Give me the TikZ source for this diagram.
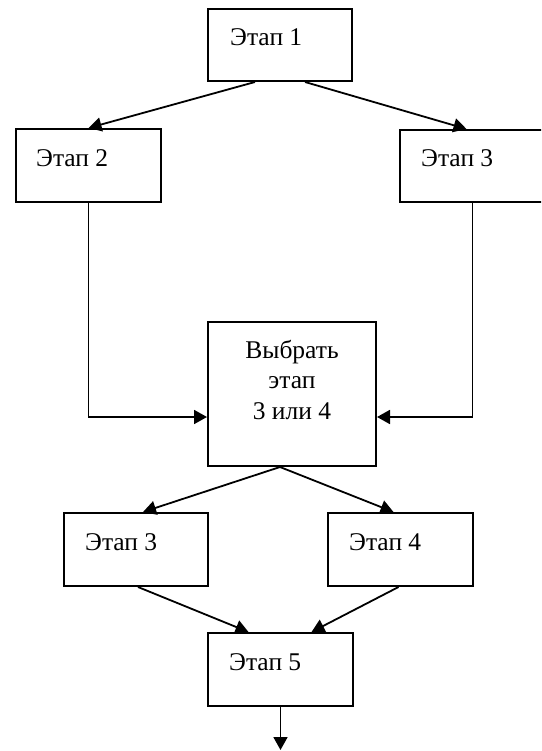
\documentclass[tikz,border=0pt]{standalone}
\usepackage{fontspec}
\setmainfont{Liberation Serif}
\newfontfamily\tnr{Liberation Serif}
\usetikzlibrary{arrows.meta}
\begin{document}
\begin{tikzpicture}[x=1pt,y=-1pt,
  box/.style={draw, line width=2pt, rectangle, inner sep=0pt},
  lbl/.style={inner sep=0pt, anchor=base west, font=\tnr\fontsize{25.5}{30.5}\selectfont},
  arr/.style={line width=1.8pt, -{Triangle[length=13pt,width=14pt]}}]
\useasboundingbox (0,0) rectangle (541,751);
\clip (0,0) rectangle (541,751);
% boxes
\node[box, minimum width=144pt, minimum height=72pt] (b1) at (280,45) {};
\node[box, minimum width=145pt, minimum height=73pt] (b2) at (88.5,165.5) {};
\node[box, minimum width=145pt, minimum height=72pt] (b3) at (472.5,166) {};
\node[box, minimum width=168pt, minimum height=144pt] (b4) at (292,394) {};
\node[box, minimum width=144pt, minimum height=73pt] (b5) at (136,549.5) {};
\node[box, minimum width=145pt, minimum height=73pt] (b6) at (400.5,549.5) {};
\node[box, minimum width=145pt, minimum height=73pt] (b7) at (280.5,669.5) {};
% labels
\node[lbl] (t1) at (230,46) {Этап 1};
\node[lbl] (t2) at (36,167) {Этап 2};
\node[lbl] (t3) at (421,167) {Этап 3};
\node[lbl, anchor=base] (t4) at (292,358) {\begin{tabular}[t]{@{}c@{}}Выбрать\\этап\\3 или 4\end{tabular}};
\node[lbl] (t5) at (85,550) {Этап 3};
\node[lbl] (t6) at (349,550) {Этап 4};
\node[lbl] (t7) at (229,670) {Этап 5};
% connectors
\coordinate (out) at (280.5,750);
\draw[arr] ([xshift=-25pt]b1.south) -- (b2.north);
\draw[arr] ([xshift=25pt]b1.south) -- ([xshift=-6pt]b3.north);
\draw[arr] (b2.south) |- ([yshift=-23pt]b4.west);
\draw[arr] (b3.south) |- ([yshift=-23pt]b4.east);
\draw[arr] ([xshift=-12pt]b4.south) -- ([xshift=7pt]b5.north);
\draw[arr] ([xshift=-12pt]b4.south) -- ([xshift=-7pt]b6.north);
\draw[arr] ([xshift=2pt]b5.south) -- ([xshift=-32pt]b7.north);
\draw[arr] ([xshift=-2pt]b6.south) -- ([xshift=31pt]b7.north);
\draw[arr] (b7.south) -- (out);
\end{tikzpicture}
\end{document}
